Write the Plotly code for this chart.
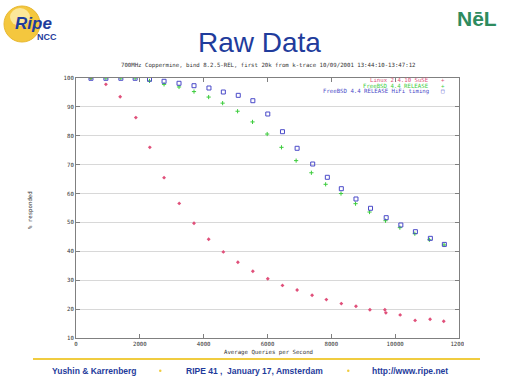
import plotly.graph_objects as go

# ---------------- data ----------------
linux_x = [469, 937, 1384, 1875, 2313, 2759, 3234, 3697, 4156, 4616, 5072, 5541, 6009,
           6469, 6928, 7397, 7844, 8313, 8772, 9209, 9678, 9709, 10156, 10625, 11094, 11522]
linux_y = [100, 97.8, 93.5, 86.3, 76.0, 65.5, 56.6, 49.7, 44.2, 39.8, 36.2, 33.1, 30.5,
           28.2, 26.6, 24.8, 23.3, 21.9, 21.0, 19.8, 19.8, 18.7, 18.0, 16.1, 16.5, 15.8]

fbsd_x = [469, 937, 1406, 1853, 2303, 2759, 3228, 3697, 4156, 4594, 5063, 5531, 5990,
          6438, 6897, 7375, 7822, 8303, 8759, 9197, 9697, 10147, 10616, 11072, 11531]
fbsd_y = [100, 100, 100, 100, 99.0, 97.8, 96.9, 95.3, 93.4, 91.3, 88.5, 84.8, 80.6,
          76.0, 71.4, 67.2, 63.2, 60.0, 56.5, 53.6, 50.6, 48.2, 46.1, 44.0, 42.2]

hifi_x = [469, 937, 1406, 1853, 2303, 2759, 3228, 3697, 4166, 4616, 5084, 5541, 6009,
          6469, 6928, 7416, 7875, 8313, 8772, 9228, 9719, 10178, 10634, 11103, 11541]
hifi_y = [99.9, 99.9, 99.9, 99.9, 99.55, 98.86, 98.17, 97.33, 96.54, 95.15, 94.0, 92.14,
          87.54, 81.41, 75.67, 70.23, 65.63, 61.68, 58.12, 54.9, 51.65, 49.12, 46.8, 44.5, 42.4]

series_names = ["Linux 2.4.10 SuSE", "FreeBSD 4.4 RELEASE", "FreeBSD 4.4 RELEASE HiFi timing"]
x_ticks = [0, 2000, 4000, 6000, 8000, 10000, 12000]
x_tick_labels = ["0", "2000", "4000", "6000", "8000", "10000", "12000"]
y_ticks = [10, 20, 30, 40, 50, 60, 70, 80, 90, 100]
y_tick_labels = ["10", "20", "30", "40", "50", "60", "70", "80", "90", "100"]

chart_title = "700MHz Coppermine, bind 8.2.5-REL, first 20k from k-trace 10/09/2001 13:44:10-13:47:12"
slide_title = "Raw Data"
footer = ["Yushin & Karrenberg", "RIPE 41 ,  January 17, Amsterdam", "http://www.ripe.net"]

# ---------------- layout helpers ----------------
W, H = 512, 384
L, R, T, B = 76, 459, 78, 338


def px(x):
    return (x - L) / (R - L)


def py(y):
    return (B - y) / (B - T)


MONO = "DejaVu Sans Mono"
FS = 5.7
RED, GREEN, BLUE = "#e0507a", "#3ccc3c", "#4a4ac8"
NAVY = "#1f3c9c"

fig = go.Figure()
fig.add_trace(go.Scatter(x=linux_x, y=linux_y, mode="markers", name=series_names[0],
                         marker=dict(symbol="diamond", size=3, color=RED)))
fig.add_trace(go.Scatter(x=fbsd_x, y=fbsd_y, mode="markers", name=series_names[1],
                         marker=dict(symbol="cross-thin", size=3, color=GREEN,
                                     line=dict(color=GREEN, width=1))))
fig.add_trace(go.Scatter(x=hifi_x, y=hifi_y, mode="markers", name=series_names[2],
                         marker=dict(symbol="square-open", size=4, color=BLUE,
                                     line=dict(color=BLUE, width=1))))

ann = []
# chart title
ann.append(dict(x=px(268), y=py(66), xref="paper", yref="paper", text=chart_title,
                showarrow=False, xanchor="center", yanchor="middle",
                font=dict(family=MONO, size=FS, color="#333333")))
# legend
leg_rows = [80, 85.5, 91]
leg_cols = [RED, GREEN, BLUE]
leg_glyph = ["+", "+", "\u25a1"]
for name, yy, c, g in zip(series_names, leg_rows, leg_cols, leg_glyph):
    ann.append(dict(x=px(431), y=py(yy), xref="paper", yref="paper", text=name,
                    showarrow=False, xanchor="right", yanchor="middle",
                    font=dict(family=MONO, size=FS, color=c)))
    ann.append(dict(x=px(443), y=py(yy), xref="paper", yref="paper", text=g,
                    showarrow=False, xanchor="center", yanchor="middle",
                    font=dict(family=MONO, size=FS, color=c)))
# axis titles
ann.append(dict(x=px(268), y=py(352), xref="paper", yref="paper",
                text="Average Queries per Second", showarrow=False,
                xanchor="center", yanchor="middle",
                font=dict(family=MONO, size=FS, color="#333333")))
ann.append(dict(x=px(30), y=py(210), xref="paper", yref="paper", text="% responded",
                showarrow=False, textangle=-90, xanchor="center", yanchor="middle",
                font=dict(family=MONO, size=FS, color="#333333")))
# slide title
ann.append(dict(x=px(259), y=py(42), xref="paper", yref="paper", text=slide_title,
                showarrow=False, xanchor="center", yanchor="middle",
                font=dict(family="Liberation Sans", size=28, color=NAVY)))
# RIPE NCC logo text
ann.append(dict(x=px(33), y=py(23), xref="paper", yref="paper",
                text="<b><i>Ripe</i></b>", showarrow=False, xanchor="center", yanchor="middle",
                font=dict(family="Liberation Sans", size=17, color="#1f3c9c")))
ann.append(dict(x=px(47), y=py(37), xref="paper", yref="paper",
                text="<b>NCC</b>", showarrow=False, xanchor="center", yanchor="middle",
                font=dict(family="Liberation Sans", size=9, color="#1f3c9c")))
# NeT logo
ann.append(dict(x=px(477), y=py(19), xref="paper", yref="paper",
                text="<b>N\u0113L</b>", showarrow=False, xanchor="center", yanchor="middle",
                font=dict(family="Liberation Sans", size=21, color="#2e8b5e")))
# footer
foot_x = [94, 254, 410]
for t, xx in zip(footer, foot_x):
    ann.append(dict(x=px(xx), y=py(371), xref="paper", yref="paper", text="<b>" + t + "</b>",
                    showarrow=False, xanchor="center", yanchor="middle",
                    font=dict(family="Liberation Sans", size=8.5, color="#1f3c9c")))

shapes = [
    # logo circle
    dict(type="circle", xref="paper", yref="paper", x0=px(4), x1=px(40), y0=py(42), y1=py(6),
         fillcolor="#f4c73e", line=dict(color="#e8b830", width=1), layer="below"),
    dict(type="circle", xref="paper", yref="paper", x0=px(10), x1=px(30), y0=py(26), y1=py(8),
         fillcolor="#fbe79a", line=dict(width=0), layer="below"),
    # footer line
    dict(type="line", xref="paper", yref="paper", x0=px(33), x1=px(480), y0=py(359), y1=py(359),
         line=dict(color="#f0cc40", width=2)),
    # footer dots
    dict(type="circle", xref="paper", yref="paper", x0=px(159), x1=px(161.5), y0=py(372), y1=py(369.5),
         fillcolor="#f0cc40", line=dict(width=0)),
    dict(type="circle", xref="paper", yref="paper", x0=px(347), x1=px(349.5), y0=py(372), y1=py(369.5),
         fillcolor="#f0cc40", line=dict(width=0)),
    # clip of the gnuplot image at right edge
    dict(type="rect", xref="paper", yref="paper", x0=px(464), x1=px(480), y0=py(349), y1=py(339),
         fillcolor="white", line=dict(width=0)),
]

fig.update_layout(
    width=W, height=H,
    margin=dict(l=L, r=W - R, t=T, b=H - B, pad=0),
    paper_bgcolor="white", plot_bgcolor="white",
    showlegend=False,
    annotations=ann, shapes=shapes,
    xaxis=dict(range=[0, 12000], tickvals=x_ticks, ticktext=x_tick_labels,
               ticks="inside", ticklen=4,
               tickcolor="#808080", showline=True, linecolor="#808080", linewidth=1,
               mirror="ticks", showgrid=False, zeroline=False,
               tickfont=dict(family=MONO, size=FS, color="#333333")),
    yaxis=dict(range=[10, 100], tickvals=y_ticks, ticktext=y_tick_labels,
               ticks="inside", ticklen=4,
               tickcolor="#808080", showline=True, linecolor="#808080", linewidth=1,
               mirror="ticks", showgrid=True, gridcolor="#d8d8d8", gridwidth=1,
               zeroline=False,
               tickfont=dict(family=MONO, size=FS, color="#333333")),
)

fig.write_html("out.html", config={"displayModeBar": False},
               post_script="document.body.style.margin='0px';document.body.style.overflow='hidden';")
